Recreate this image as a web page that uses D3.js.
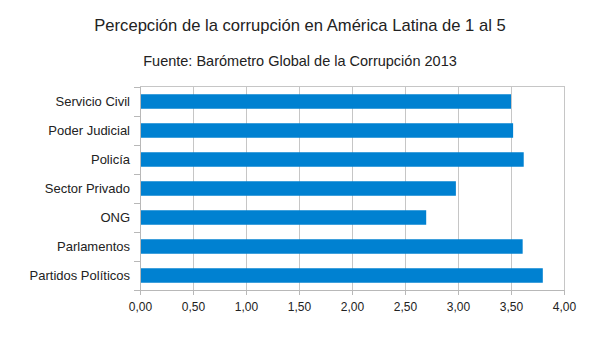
<!DOCTYPE html>
<html>
<head>
<meta charset="utf-8">
<script src="https://cdn.jsdelivr.net/npm/d3@7"></script>
<style>
  body { margin: 0; background: #fff; }
  text { font-family: "Liberation Sans", Arial, sans-serif; }
</style>
</head>
<body>
<div id="chart"></div>
<script>
const WIDTH = 600, HEIGHT = 337;
const margin = { top: 87, right: 36, bottom: 47, left: 140 };

const categories = ["Servicio Civil", "Poder Judicial", "Policía", "Sector Privado", "ONG", "Parlamentos", "Partidos Políticos"];
const values = [3.50, 3.52, 3.62, 2.98, 2.70, 3.61, 3.80];
const xTicks = [0, 0.5, 1, 1.5, 2, 2.5, 3, 3.5, 4];

const title = "Percepción de la corrupción en América Latina de 1 al 5";
const subtitle = "Fuente: Barómetro Global de la Corrupción 2013";

const width = WIDTH - margin.left - margin.right;
const height = HEIGHT - margin.top - margin.bottom;

const svg = d3.select('#chart').append('svg')
    .attr('width', WIDTH)
    .attr('height', HEIGHT);

svg.append('text')
    .attr('x', 300)
    .attr('y', 31)
    .attr('text-anchor', 'middle')
    .style('font-size', '16.6px')
    .style('fill', '#222')
    .text(title);

svg.append('text')
    .attr('x', 300)
    .attr('y', 66)
    .attr('text-anchor', 'middle')
    .style('font-size', '14.5px')
    .style('fill', '#222')
    .text(subtitle);

const g = svg.append('g')
    .attr('transform', `translate(${margin.left}, ${margin.top})`);

const xScale = d3.scaleLinear()
    .domain([0, 4])
    .range([0, width]);

const yScale = d3.scaleBand()
    .domain(categories)
    .range([0, height])
    .paddingInner(0.5)
    .paddingOuter(0.25);

// vertical gridlines
g.selectAll('.grid')
    .data(xTicks.slice(1))
    .enter()
    .append('line')
    .attr('x1', d => Math.round(xScale(d)) + 0.5)
    .attr('x2', d => Math.round(xScale(d)) + 0.5)
    .attr('y1', 0)
    .attr('y2', height)
    .attr('stroke', '#c6c6c6')
    .attr('stroke-width', 1);

// top border of plot
g.append('line')
    .attr('x1', 0).attr('x2', width + 1)
    .attr('y1', -0.5).attr('y2', -0.5)
    .attr('stroke', '#c6c6c6');

// bars
g.selectAll('.bar')
    .data(categories)
    .enter()
    .append('rect')
    .attr('x', 1)
    .attr('y', d => yScale(d))
    .attr('width', (d, i) => xScale(values[i]) - 1)
    .attr('height', yScale.bandwidth())
    .attr('fill', '#0081d1');

// bottom axis
const xAxis = g.append('g')
    .attr('transform', `translate(0, ${height})`)
    .call(d3.axisBottom(xScale)
        .tickValues(xTicks)
        .tickFormat(d => d3.format('.2f')(d).replace('.', ','))
        .tickSize(5)
        .tickSizeOuter(0));
xAxis.select('.domain').attr('stroke', '#b8b8b8');
xAxis.selectAll('.tick line').attr('stroke', '#b8b8b8');
xAxis.selectAll('.tick text')
    .attr('dy', '1.05em')
    .style('font-size', '12px')
    .style('fill', '#222')
    .style('font-family', '"Liberation Sans", Arial, sans-serif');

// left axis: ticks sit at band boundaries
g.append('line')
    .attr('x1', 0.5).attr('x2', 0.5)
    .attr('y1', 0).attr('y2', height)
    .attr('stroke', '#b8b8b8');

g.selectAll('.ytick')
    .data(d3.range(categories.length + 1))
    .enter()
    .append('line')
    .attr('x1', -6)
    .attr('x2', 0)
    .attr('y1', i => Math.round(i * yScale.step()) + 0.5)
    .attr('y2', i => Math.round(i * yScale.step()) + 0.5)
    .attr('stroke', '#b8b8b8');

g.selectAll('.ylabel')
    .data(categories)
    .enter()
    .append('text')
    .attr('x', -10)
    .attr('y', d => yScale(d) + yScale.bandwidth() / 2)
    .attr('dy', '0.35em')
    .attr('text-anchor', 'end')
    .style('font-size', '13px')
    .style('fill', '#222')
    .text(d => d);

// right border of plot
g.append('line')
    .attr('x1', width + 0.5).attr('x2', width + 0.5)
    .attr('y1', 0).attr('y2', height)
    .attr('stroke', '#c6c6c6');
</script>
</body>
</html>
